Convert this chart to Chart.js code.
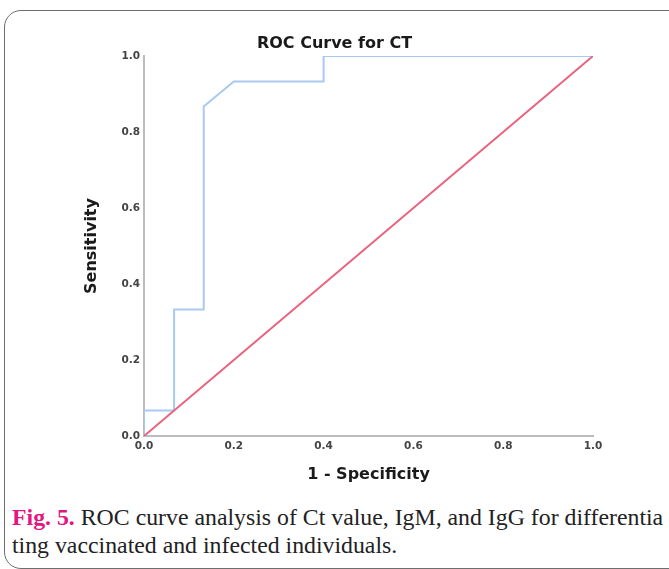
<!DOCTYPE html>
<html>
<head>
<meta charset="utf-8">
<script src="https://cdn.jsdelivr.net/npm/chart.js@4/dist/chart.umd.min.js"></script>
<style>
  html, body { margin: 0; padding: 0; background: #fff; overflow: hidden; }
  body { width: 669px; height: 569px; position: relative; }
  #frame {
    position: absolute; left: 4px; top: 10px; width: 720px; height: 559px;
    border: 1px solid #6e6e6e; border-radius: 17px; box-sizing: border-box;
  }
  #chart-wrap { position: absolute; left: 0; top: 0; width: 669px; height: 490px; }
  #caption {
    position: absolute; left: 12px; top: 503px; width: 720px;
    font-family: "Liberation Serif", "DejaVu Serif", serif; font-size: 23.8px;
    line-height: 28px; color: #222; white-space: nowrap;
  }
  #caption b { color: #e3177f; }
</style>
</head>
<body>
<div id="frame"></div>
<div id="chart-wrap"><canvas id="roc-chart" width="669" height="490"></canvas></div>
<div id="caption">
  <b>Fig. 5.</b> ROC curve analysis of Ct value, IgM, and IgG for differentia<br>
  ting vaccinated and infected individuals.
</div>
<script>
// ROC curve points (1 - specificity, sensitivity)
const falsePosRate = [0, 0, 0.067, 0.067, 0.133, 0.133, 0.2, 0.4, 0.4, 1.0];
const truePosRate  = [0, 0.067, 0.067, 0.333, 0.333, 0.867, 0.933, 0.933, 1.0, 1.0];

// reference diagonal
const refX = [0, 1];
const refY = [0, 1];

const tickValues = [0, 0.2, 0.4, 0.6, 0.8, 1.0];

const toPoints = (xs, ys) => xs.map((x, i) => ({ x: x, y: ys[i] }));

Chart.defaults.font.family = "'DejaVu Sans', sans-serif";

const tickStyle = {
    padding: 4,
    color: '#444',
    font: { size: 10.5, weight: 'bold' },
    callback: v => Number(v).toFixed(1)
};

const ctx = document.getElementById('roc-chart').getContext('2d');

const chart = new Chart(ctx, {
    type: 'scatter',
    data: {
        datasets: [
            {
                label: 'Reference',
                data: toPoints(refX, refY),
                showLine: true,
                borderColor: '#e8637d',
                borderWidth: 2,
                pointRadius: 0,
                order: 0
            },
            {
                label: 'CT',
                data: toPoints(falsePosRate, truePosRate),
                showLine: true,
                borderColor: '#a9c9f2',
                borderWidth: 2,
                pointRadius: 0,
                tension: 0,
                order: 1
            }
        ]
    },
    options: {
        responsive: false,
        animation: false,
        layout: { padding: 0 },
        plugins: {
            legend: { display: false },
            tooltip: { enabled: false },
            title: {
                display: true,
                text: 'ROC Curve for CT',
                color: '#1a1a1a',
                font: { size: 16, weight: 'bold' },
                padding: { top: 34.4, bottom: 2.4 }
            }
        },
        scales: {
            x: {
                type: 'linear',
                position: 'bottom',
                min: 0, max: 1,
                afterBuildTicks: s => { s.ticks = tickValues.map(v => ({ value: v })); },
                afterFit: s => { s.height = 54; },
                grid: { display: false, drawTicks: false },
                border: { display: true, color: '#bcbcbc', width: 2 },
                ticks: tickStyle,
                title: {
                    display: true,
                    text: '1 - Specificity',
                    color: '#1a1a1a',
                    font: { size: 16, weight: 'bold' },
                    padding: { top: 0, bottom: 5.4 }
                }
            },
            y: {
                type: 'linear',
                position: 'left',
                min: 0, max: 1,
                afterBuildTicks: s => { s.ticks = tickValues.map(v => ({ value: v })); },
                afterFit: s => { s.width = 144; },
                grid: { display: false, drawTicks: false },
                border: { display: true, color: '#bcbcbc', width: 2 },
                ticks: tickStyle,
                title: {
                    display: true,
                    text: 'Sensitivity',
                    color: '#1a1a1a',
                    font: { size: 16, weight: 'bold' },
                    padding: { top: 82.4, bottom: 0 }
                }
            },
            // empty right axis, only keeps the plot area where the original has it
            yr: {
                type: 'linear',
                position: 'right',
                afterFit: s => { s.width = 76; },
                grid: { display: false, drawTicks: false },
                border: { display: false },
                ticks: { display: false }
            }
        }
    }
});
</script>
</body>
</html>
